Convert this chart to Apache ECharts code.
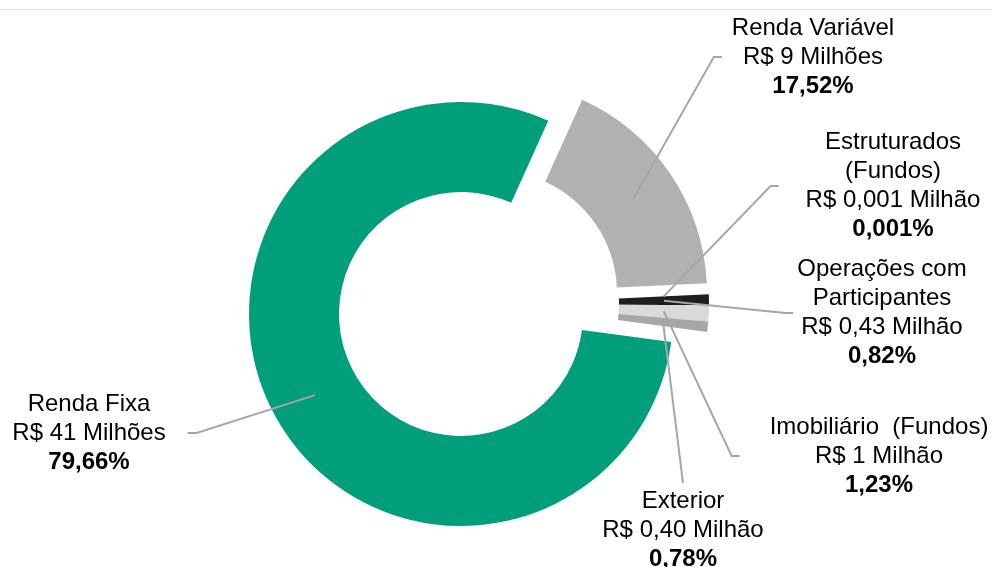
<!DOCTYPE html>
<html>
<head>
<meta charset="utf-8">
<script src="https://cdn.jsdelivr.net/npm/echarts@6/dist/echarts.min.js"></script>
<style>
  html, body { margin: 0; padding: 0; background: #fff; }
  #wrap { position: relative; width: 992px; height: 567px; }
  #chart { width: 992px; height: 567px; }
  #rule { position: absolute; left: 0; top: 9px; width: 992px; height: 1px; background: #e0e0e0; }
</style>
</head>
<body>
<div id="wrap"><div id="chart"></div><div id="rule"></div></div>
<script>
// Portfolio allocation by asset class
const categories = ['Renda Variável', 'Estruturados\n(Fundos)', 'Operações com\nParticipantes', 'Imobiliário  (Fundos)', 'Exterior', 'Renda Fixa'];
const shares = [17.52, 0.001, 0.82, 1.23, 0.78, 79.66];
const amounts = ['R$ 9 Milhões', 'R$ 0,001 Milhão', 'R$ 0,43 Milhão', 'R$ 1 Milhão', 'R$ 0,40 Milhão', 'R$ 41 Milhões'];
const colors = ['#b1b1b1', '#595959', '#1e1e1e', '#d9d9d9', '#a6a6a6', '#009e7b'];

// ring geometry (px) and first-slice angle
const R_IN = 122, R_OUT = 212, R_MID = (R_IN + R_OUT) / 2;
const START_ANGLE = 65.7;

// slices are drawn in three groups; the two smaller groups are pulled out of the ring
const groups = [
  { members: [5], center: [461, 314] },
  { members: [0], center: [495, 293] },
  { members: [1, 2, 3, 4], center: [497, 304] }
];
function groupCenter(i) {
  return groups.find(g => g.members.includes(i)).center;
}

// label placement: block centre, side the leader line attaches to, and gap to the text
const labelSpots = [
  { x: 813, y: 57, side: 'left', gap: 10 },
  { x: 893, y: 186, side: 'left', gap: 27 },
  { x: 882, y: 313, side: 'left', gap: 4 },
  { x: 879, y: 456, side: 'left', gap: 30 },
  { x: 683, y: 530, side: 'top', gap: 6 },
  { x: 89, y: 433, side: 'right', gap: 22 }
];

const total = shares.reduce((a, b) => a + b, 0);
function midAngle(i) {
  let before = 0;
  for (let k = 0; k < i; k++) before += shares[k];
  return (START_ANGLE - (before + shares[i] / 2) / total * 360) * Math.PI / 180;
}
function pct(v) { return String(v).replace('.', ',') + '%'; }

const FONT = '"Liberation Sans", Arial, sans-serif';
const rich = {
  n: { fontSize: 24, fontFamily: FONT, color: '#000', lineHeight: 29, align: 'center' },
  v: { fontSize: 24, fontFamily: FONT, color: '#000', lineHeight: 29, align: 'center' },
  p: { fontSize: 24, fontFamily: FONT, color: '#000', lineHeight: 29, fontWeight: 'bold', align: 'center' }
};

const base = {
  type: 'pie',
  radius: [R_IN, R_OUT],
  startAngle: START_ANGLE,
  clockwise: true,
  avoidLabelOverlap: false,
  animation: false,
  silent: true,
  emphasis: { disabled: true }
};

// visible ring slices, one series per group
function sliceSeries(g) {
  return Object.assign({}, base, {
    center: g.center,
    z: 2,
    label: { show: false },
    labelLine: { show: false },
    data: categories.map((name, i) => ({
      name: name,
      value: shares[i],
      itemStyle: { color: g.members.includes(i) ? colors[i] : 'rgba(0,0,0,0)' }
    }))
  });
}

// transparent layer on top that carries the labels and leader lines
const labelSeries = Object.assign({}, base, {
  center: groups[0].center,
  z: 5,
  itemStyle: { color: 'rgba(0,0,0,0)' },
  label: {
    show: true,
    position: 'outside',
    align: 'center',
    formatter: function (p) {
      const i = p.dataIndex;
      const nameLines = categories[i].split('\n').map(t => '{n|' + t + '}').join('\n');
      return nameLines + '\n{v|' + amounts[i] + '}\n{p|' + pct(shares[i]) + '}';
    },
    rich: rich
  },
  labelLine: { show: true, smooth: false, lineStyle: { color: '#a6a6a6', width: 2 } },
  labelLayout: function (p) {
    const i = p.dataIndex;
    const s = labelSpots[i];
    const c = groupCenter(i);
    const w = p.labelRect.width, h = p.labelRect.height;
    const a = midAngle(i);
    const start = [c[0] + R_MID * Math.cos(a), c[1] - R_MID * Math.sin(a)];
    let end, elbow;
    if (s.side === 'left') {
      end = [s.x - w / 2 - s.gap, s.y];
      elbow = [end[0] - 8, s.y];
    } else if (s.side === 'right') {
      end = [s.x + w / 2 + s.gap, s.y];
      elbow = [end[0] + 9, s.y];
    } else {
      end = [s.x, s.y - h / 2 - s.gap];
      elbow = end.slice();
    }
    return { x: s.x, y: s.y, align: 'center', verticalAlign: 'middle', labelLinePoints: [start, elbow, end] };
  },
  data: categories.map((name, i) => ({ name: name, value: shares[i] }))
});

const chart = echarts.init(document.getElementById('chart'), null, { renderer: 'canvas' });
chart.setOption({
  backgroundColor: '#ffffff',
  animation: false,
  series: groups.map(sliceSeries).concat([labelSeries])
});
</script>
</body>
</html>
